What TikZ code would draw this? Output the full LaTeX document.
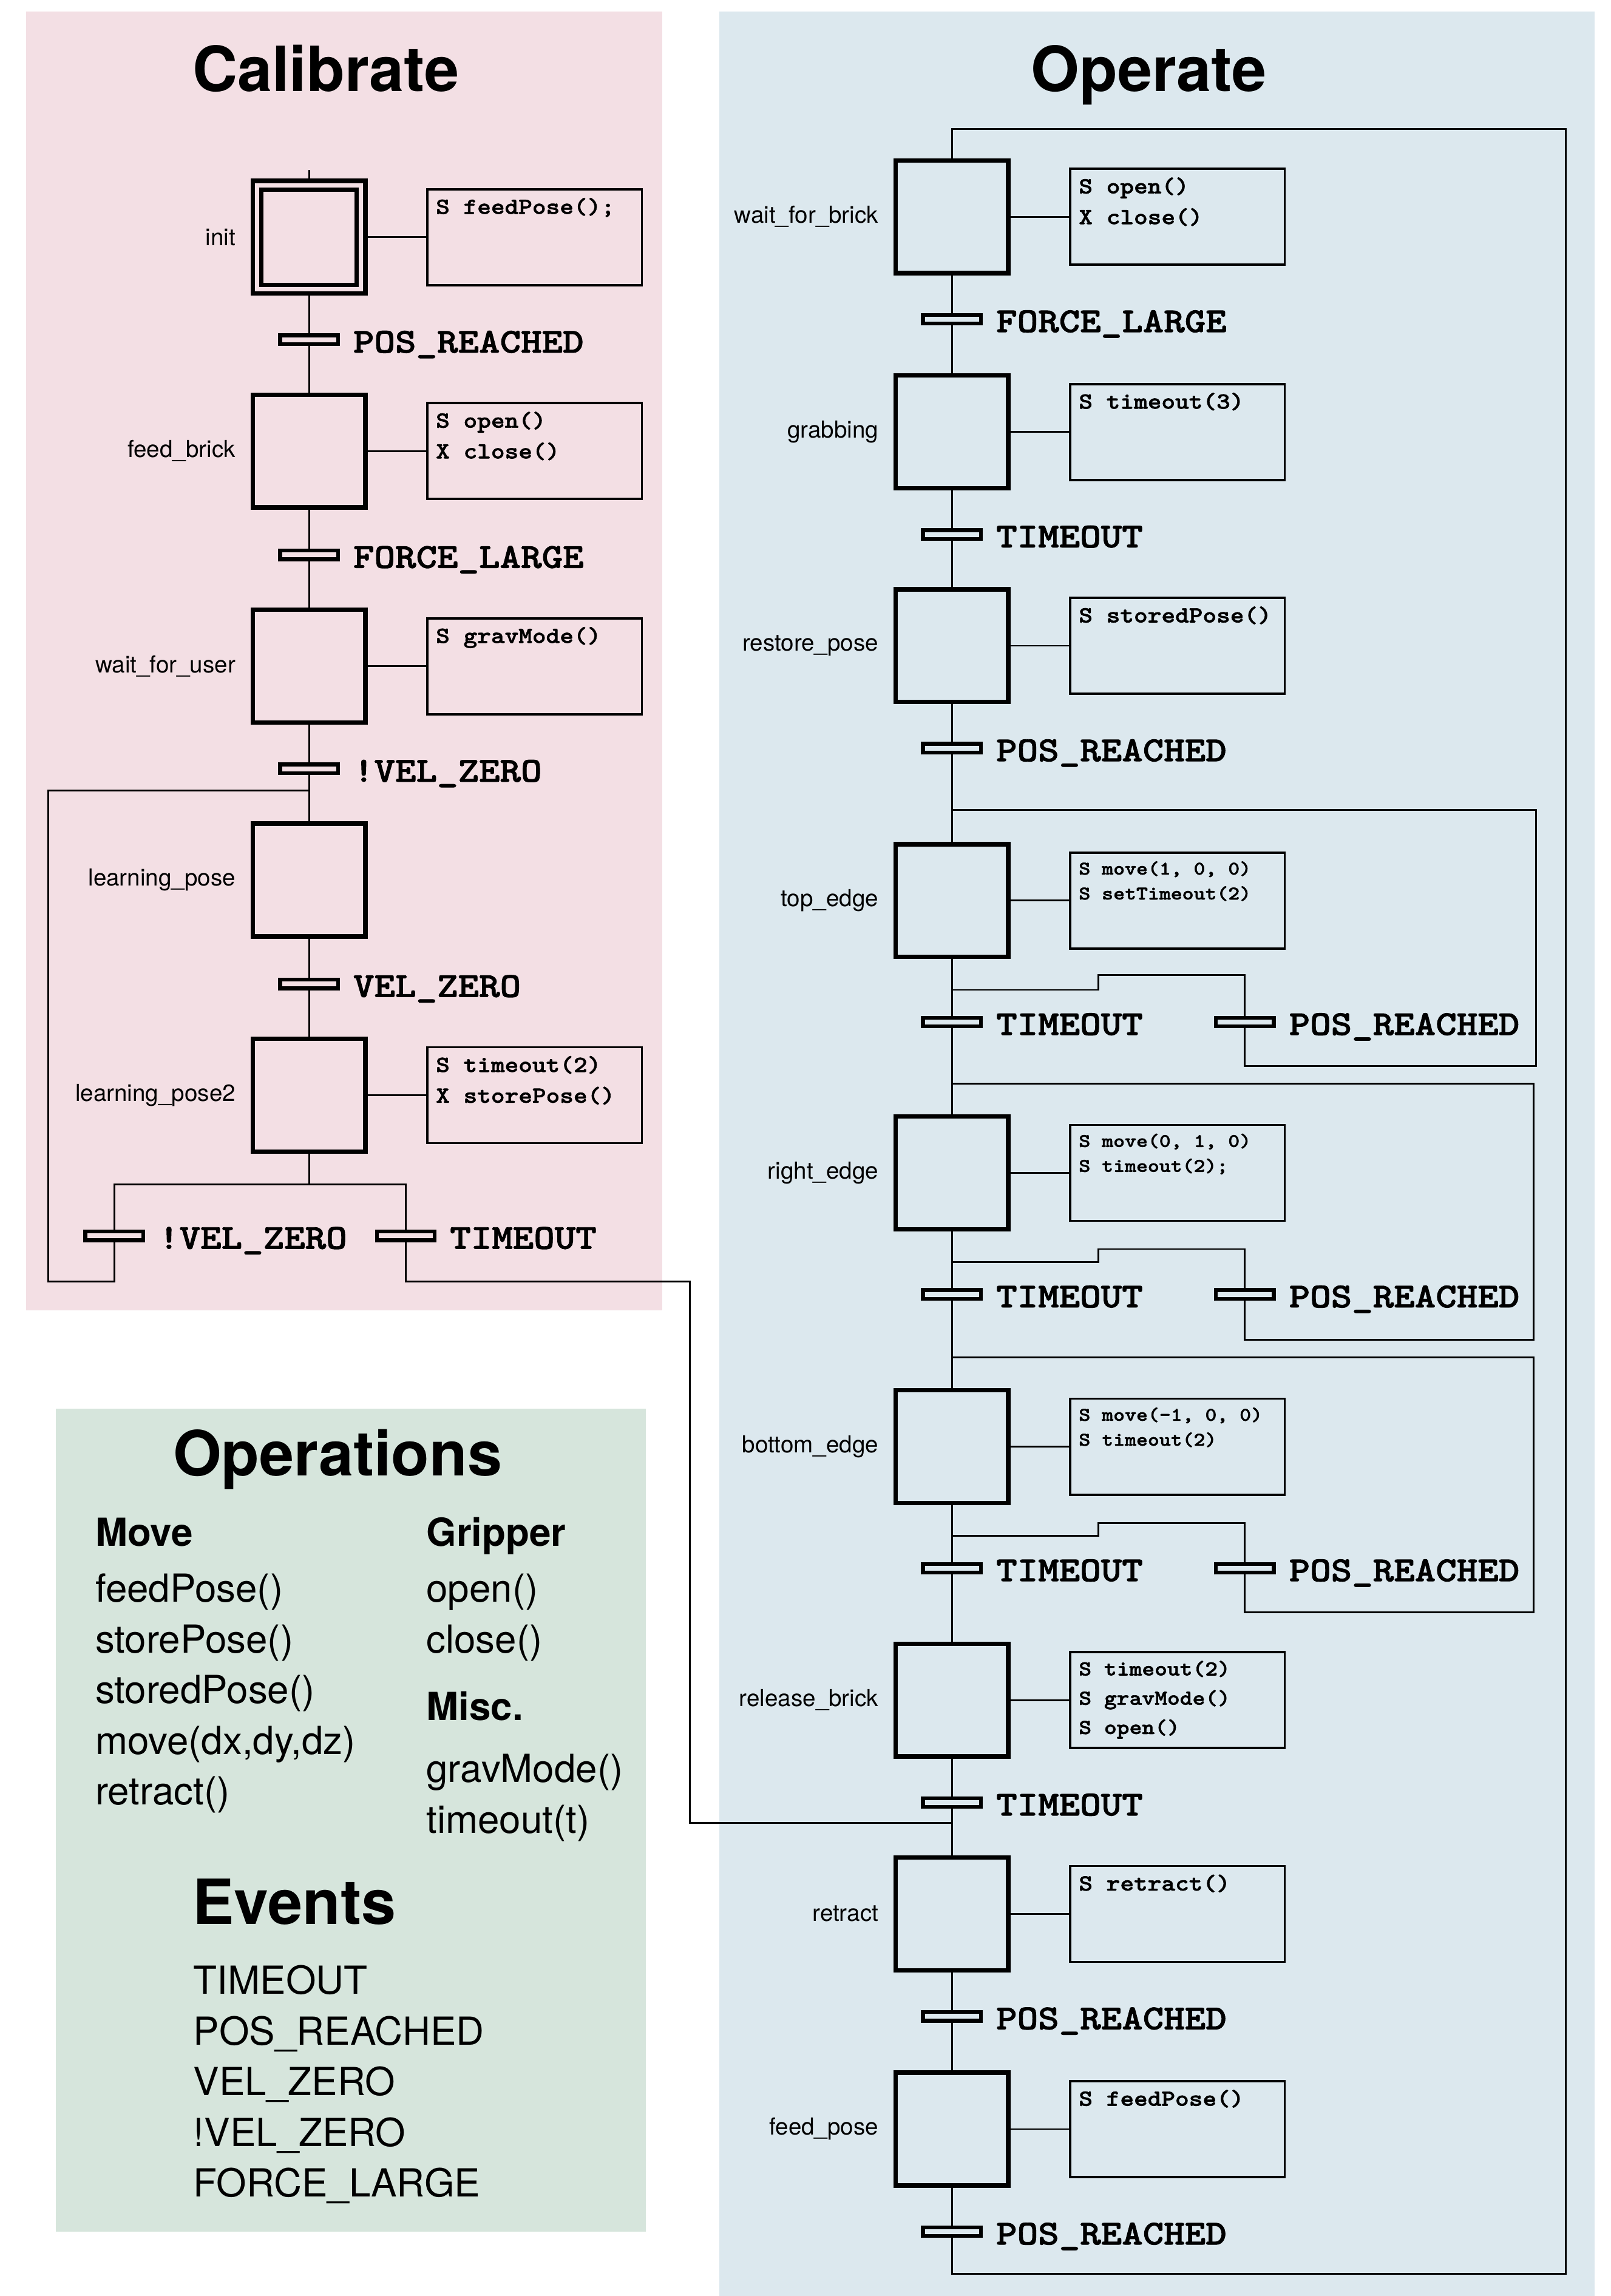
\documentclass[tikz,border=0pt]{standalone}
\usepackage{fontspec}
\setmainfont{TeX Gyre Heros}
\newfontfamily\courbf{lmmonolt10-bold.otf}[FakeStretch=1.14, FakeBold=1.6]
\usepackage{tikz}
\usetikzlibrary{positioning}
\definecolor{calibPink}{RGB}{243,223,228}
\definecolor{operBlue}{RGB}{220,232,238}
\definecolor{opsGreen}{RGB}{214,229,220}

\begin{document}
\begin{tikzpicture}[
	x=1pt, y=-1pt,
	% Buoc cua grafcet
	stepnode/.style={
		rectangle, draw, line width=3pt, inner sep=0pt,
		minimum width=77pt, minimum height=77pt
	},
	% Buoc khoi dau: khung doi
	initstep/.style={
		rectangle, draw, line width=3pt, double=calibPink, double distance=3pt,
		inner sep=0pt, outer sep=4.5pt, minimum width=71pt, minimum height=71pt
	},
	% Thanh chuyen tiep
	trbar/.style={
		rectangle, draw, line width=2.6pt, inner sep=0pt,
		minimum width=39.5pt, minimum height=6pt
	},
	% Khung hanh dong
	actbox/.style={
		rectangle, draw, line width=1.5pt, inner sep=0pt,
		minimum width=146.5pt, minimum height=65.5pt
	},
	link/.style={line width=1.2pt},
	steplabel/.style={
		font=\fontsize{16}{16}\selectfont, inner sep=0pt, label distance=10pt
	},
	trlabel/.style={
		font=\courbf\fontsize{23.9}{24}\selectfont, inner sep=0pt, yshift=-1.5pt,
		label distance=9pt, text height=14.6pt, text depth=0pt
	},
	actext/.style={
		font=\courbf\fontsize{15.7}{21}\selectfont, align=left,
		inner sep=0pt, anchor=north west, xshift=6.5pt, yshift=-6.5pt
	},
	actsmall/.style={actext, font=\courbf\fontsize{13.1}{17}\selectfont},
	actmid/.style={actext, font=\courbf\fontsize{14.4}{20}\selectfont},
	paneltitle/.style={
		font=\bfseries\fontsize{42.5}{43}\selectfont, anchor=base, inner sep=0pt
	},
	opshead/.style={
		font=\bfseries\fontsize{26.4}{27}\selectfont, anchor=base west, inner sep=0pt
	},
	opslist/.style={
		font=\fontsize{26.4}{34.6}\selectfont, align=left, anchor=north west, inner sep=0pt
	}
	]
	\useasboundingbox (0,0) rectangle (1100,1568);
	
	% Nen cac vung
	\fill[calibPink] (18,8) rectangle (452,895);
	\fill[operBlue] (491,8) rectangle (1089,1568);
	\fill[opsGreen] (38,962) rectangle (441,1524);
	
	\node[paneltitle] (calibT) at (222.5,62.5) {Calibrate};
	\node[paneltitle] (operT) at (784.5,62.5) {Operate};
	
	% ---------------- Calibrate ----------------
	\node[initstep, label={[steplabel]180:init}] (init) at (211,162) {};
	\node[trbar, label={[trlabel]0:POS\_REACHED}] (c1) at (211,232) {};
	\node[stepnode, label={[steplabel]180:feed\_brick}] (feedb) at (211,308) {};
	\node[trbar, label={[trlabel]0:FORCE\_LARGE}] (c2) at (211,379) {};
	\node[stepnode, label={[steplabel]180:wait\_for\_user}] (wfu) at (211,455) {};
	\node[trbar, label={[trlabel]0:!VEL\_ZERO}] (c3) at (211,525) {};
	\node[stepnode, label={[steplabel]180:learning\_pose}] (lp) at (211,601) {};
	\node[trbar, label={[trlabel]0:VEL\_ZERO}] (c4) at (211,672) {};
	\node[stepnode, label={[steplabel]180:learning\_pose2}] (lp2) at (211,748) {};
	\node[trbar, label={[trlabel]0:!VEL\_ZERO}] (c5) at (78,844) {};
	\node[trbar, label={[trlabel]0:TIMEOUT}] (c6) at (277,844) {};
	
	\node[actbox, right=40pt of init, label={[actext]north west:{S feedPose();}}] (a_init) {};
	\node[actbox, right=40pt of feedb, label={[actext]north west:{S open()\\X close()}}] (a_feedb) {};
	\node[actbox, right=40pt of wfu, label={[actext]north west:{S gravMode()}}] (a_wfu) {};
	\node[actbox, right=40pt of lp2, label={[actext]north west:{S timeout(2)\\X storePose()}}] (a_lp2) {};
	
	\coordinate (cstart) at (211,116);
	\coordinate (cjoin) at (211,540);
	\coordinate (cdiv) at (211,809);
	
	\draw[link] (cstart) -- (init.north);
	\foreach \a/\b in {init/c1, c1/feedb, feedb/c2, c2/wfu, wfu/c3, c3/lp, lp/c4, c4/lp2}
		\draw[link] (\a) -- (\b);
	\foreach \s in {init, feedb, wfu, lp2}
		\draw[link] (\s) -- (a_\s);
	\draw[link] (lp2) -- (cdiv);
	\draw[link] (c5) |- (cdiv) -| (c6);
	% Quay lai learning_pose
	\draw[link] (c5) |- (33,875) |- (cjoin);
	
	% ---------------- Operate ----------------
	\node[stepnode, label={[steplabel]180:wait\_for\_brick}] (wfb) at (650,148) {};
	\node[trbar, label={[trlabel]0:FORCE\_LARGE}] (t1) at (650,218) {};
	\node[stepnode, label={[steplabel]180:grabbing}] (grab) at (650,295) {};
	\node[trbar, label={[trlabel]0:TIMEOUT}] (t2) at (650,365) {};
	\node[stepnode, label={[steplabel]180:restore\_pose}] (rest) at (650,441) {};
	\node[trbar, label={[trlabel]0:POS\_REACHED}] (t3) at (650,511) {};
	\node[stepnode, label={[steplabel]180:top\_edge}] (top) at (650,615) {};
	\node[trbar, label={[trlabel]0:TIMEOUT}] (t4) at (650,698) {};
	\node[trbar, label={[trlabel]0:POS\_REACHED}] (s4) at (850,698) {};
	\node[stepnode, label={[steplabel]180:right\_edge}] (right) at (650,801) {};
	\node[trbar, label={[trlabel]0:TIMEOUT}] (t5) at (650,884) {};
	\node[trbar, label={[trlabel]0:POS\_REACHED}] (s5) at (850,884) {};
	\node[stepnode, label={[steplabel]180:bottom\_edge}] (bot) at (650,988) {};
	\node[trbar, label={[trlabel]0:TIMEOUT}] (t6) at (650,1071) {};
	\node[trbar, label={[trlabel]0:POS\_REACHED}] (s6) at (850,1071) {};
	\node[stepnode, label={[steplabel]180:release\_brick}] (rel) at (650,1161) {};
	\node[trbar, label={[trlabel]0:TIMEOUT}] (t7) at (650,1231) {};
	\node[stepnode, label={[steplabel]180:retract}] (retr) at (650,1307) {};
	\node[trbar, label={[trlabel]0:POS\_REACHED}] (t8) at (650,1377) {};
	\node[stepnode, label={[steplabel]180:feed\_pose}] (feed) at (650,1454) {};
	\node[trbar, label={[trlabel]0:POS\_REACHED}] (t9) at (650,1524) {};
	
	\node[actbox, right=40pt of wfb, label={[actext]north west:{S open()\\X close()}}] (a_wfb) {};
	\node[actbox, right=40pt of grab, label={[actext]north west:{S timeout(3)}}] (a_grab) {};
	\node[actbox, right=40pt of rest, label={[actext]north west:{S storedPose()}}] (a_rest) {};
	\node[actbox, right=40pt of top, label={[actsmall]north west:{S move(1, 0, 0)\\S setTimeout(2)}}] (a_top) {};
	\node[actbox, right=40pt of right, label={[actsmall]north west:{S move(0, 1, 0)\\S timeout(2);}}] (a_right) {};
	\node[actbox, right=40pt of bot, label={[actsmall]north west:{S move(-1, 0, 0)\\S timeout(2)}}] (a_bot) {};
	\node[actbox, right=40pt of rel, label={[actmid]north west:{S timeout(2)\\S gravMode()\\S open()}}] (a_rel) {};
	\node[actbox, right=40pt of retr, label={[actext]north west:{S retract()}}] (a_retr) {};
	\node[actbox, right=40pt of feed, label={[actext]north west:{S feedPose()}}] (a_feed) {};
	
	\coordinate (otop) at (650,88);
	\coordinate (tjoin) at (650,553);
	\coordinate (tdiv) at (650,676);
	\coordinate (rjoin) at (650,740);
	\coordinate (rdiv) at (650,862);
	\coordinate (bjoin) at (650,927);
	\coordinate (bdiv) at (650,1049);
	\coordinate (ojoin) at (650,1245);
	
	\foreach \a/\b in {wfb/t1, t1/grab, grab/t2, t2/rest, rest/t3, t3/top, top/t4, t4/right,
		right/t5, t5/bot, bot/t6, t6/rel, rel/t7, t7/retr, retr/t8, t8/feed, feed/t9}
		\draw[link] (\a) -- (\b);
	\foreach \s in {wfb, grab, rest, top, right, bot, rel, retr, feed}
		\draw[link] (\s) -- (a_\s);
	
	% Cac nhanh POS_REACHED quay lai chinh buoc do
	\draw[link] (tdiv) -| (750,666) -| (s4);
	\draw[link] (s4) |- (1049,728) |- (tjoin);
	\draw[link] (rdiv) -| (750,853) -| (s5);
	\draw[link] (s5) |- (1047,915) |- (rjoin);
	\draw[link] (bdiv) -| (750,1040) -| (s6);
	\draw[link] (s6) |- (1047,1101) |- (bjoin);
	
	% Vong lon ve wait_for_brick
	\draw[link] (t9) |- (1069,1553) |- (otop) -- (wfb);
	% TIMEOUT cua Calibrate sang retract
	\draw[link] (c6) |- (471,875) |- (ojoin);
	
	% ---------------- Operations ----------------
	\node[paneltitle] (opsT) at (230.5,1008) {Operations};
	\node[opshead] (moveH) at (65,1056) {Move};
	\node[opslist] (moveL) at (65,1074.7) {feedPose()\\storePose()\\storedPose()\\move(dx,dy,dz)\\retract()};
	\node[opshead] (gripH) at (291,1056) {Gripper};
	\node[opslist] (gripL) at (291,1074.7) {open()\\close()};
	\node[opshead] (miscH) at (291,1175) {Misc.};
	\node[opslist] (miscL) at (291,1197.7) {gravMode()\\timeout(t)};
	\node[paneltitle] (evT) at (201,1314) {Events};
	\node[opslist] (evL) at (132,1342) {TIMEOUT\\POS\_REACHED\\VEL\_ZERO\\!VEL\_ZERO\\FORCE\_LARGE};
	
\end{tikzpicture}
\end{document}
